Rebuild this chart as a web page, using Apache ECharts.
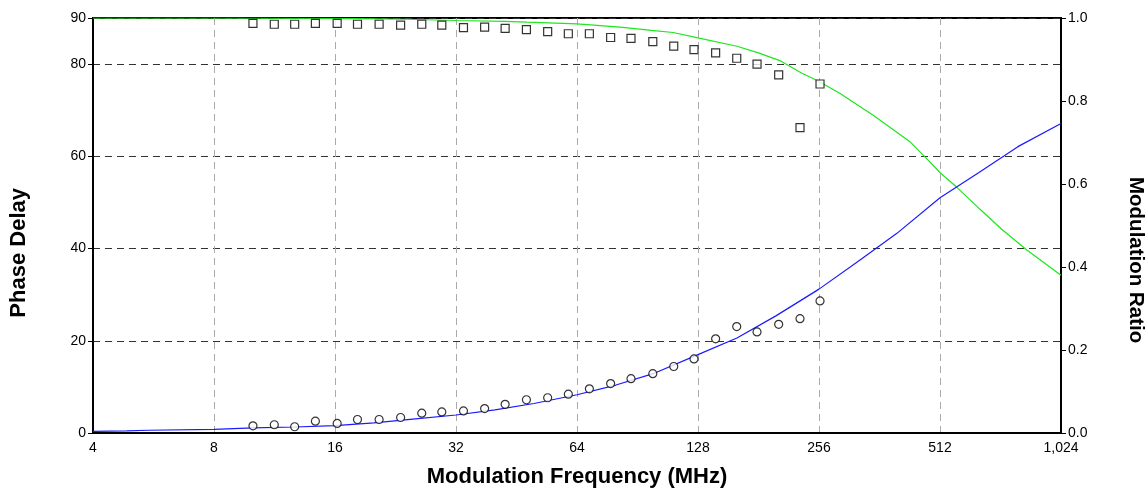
<!DOCTYPE html>
<html>
<head>
<meta charset="utf-8">
<script src="https://cdn.jsdelivr.net/npm/echarts@6/dist/echarts.min.js"></script>
<style>
html,body{margin:0;padding:0;background:#fff;overflow:hidden;}
#chart{width:100vw;height:100vh;}
</style>
</head>
<body>
<div id="chart"></div>
<script>
// Measured frequencies (MHz)
var freqs = [10.0, 11.3, 12.7, 14.3, 16.2, 18.2, 20.6, 23.3, 26.3, 29.5, 33.4, 37.7, 42.4, 47.9, 54.1, 60.9, 68.7, 77.6, 87.2, 98.8, 111.4, 125.1, 141.6, 159.8, 179.5, 203.2, 229.6, 257.5];
// Measured phase delay (degrees) - circles
var phaseData = [1.56, 1.79, 1.36, 2.57, 2.07, 2.93, 2.93, 3.36, 4.29, 4.57, 4.79, 5.29, 6.21, 7.21, 7.64, 8.43, 9.57, 10.71, 11.79, 12.86, 14.42, 16.07, 20.42, 23.08, 21.92, 23.57, 24.79, 28.65];
// Measured modulation ratio - squares
var modData = [0.987, 0.985, 0.985, 0.987, 0.987, 0.985, 0.985, 0.983, 0.985, 0.983, 0.977, 0.978, 0.975, 0.972, 0.967, 0.962, 0.962, 0.953, 0.951, 0.943, 0.932, 0.924, 0.916, 0.903, 0.889, 0.863, 0.736, 0.841];
// Fitted phase curve (blue)
var phaseFitFreq = [4, 4.85, 5.5, 8, 10, 12.7, 16, 20, 25, 32, 40, 50, 64, 80, 100, 128, 160, 200, 256, 320, 400, 512, 640, 800, 1024];
var phaseFitVal  = [0.35, 0.45, 0.6, 0.8, 1.1, 1.3, 1.6, 2.2, 3.0, 3.9, 5.0, 6.4, 8.3, 10.4, 13.0, 17.0, 20.6, 25.4, 31.2, 37.2, 43.3, 51.0, 56.5, 62.1, 67.1];
// Fitted modulation curve (green)
var modFitFreq = [4, 8, 16, 24, 32, 42.4, 48, 64, 82, 98, 111, 128, 160, 181, 206, 231, 256, 289, 303, 350, 431, 471, 514, 564, 644, 729, 842, 1024];
var modFitVal  = [1.0, 1.0, 0.999, 0.997, 0.994, 0.992, 0.990, 0.986, 0.978, 0.970, 0.965, 0.952, 0.932, 0.916, 0.896, 0.868, 0.847, 0.818, 0.805, 0.765, 0.702, 0.664, 0.626, 0.592, 0.539, 0.491, 0.441, 0.380];
// Axis titles
var xTitle = 'Modulation Frequency (MHz)';
var yLeftTitle = 'Phase Delay';
var yRightTitle = 'Modulation Ratio';

function zip(a, b) { return a.map(function (v, i) { return [v, b[i]]; }); }

var FONT = 'Liberation Sans, Arial, sans-serif';
var el = document.getElementById('chart');
var chart = echarts.init(el, null, {renderer: 'canvas'});
chart.setOption({
  animation: false,
  backgroundColor: '#fff',
  grid: {left: 93, width: 968, top: 18, height: 420, show: true, borderColor: '#000', borderWidth: 2, containLabel: false},
  graphic: [{
    type: 'text', left: 8, top: 188, rotation: Math.PI / 2, silent: true,
    style: {text: yLeftTitle, font: 'bold 22px ' + FONT, fill: '#000', textAlign: 'center', textVerticalAlign: 'middle'}
  }, {
    type: 'text', left: 1125, top: 177, rotation: -Math.PI / 2, silent: true,
    style: {text: yRightTitle, font: 'bold 20.5px ' + FONT, fill: '#000', textAlign: 'center', textVerticalAlign: 'middle'}
  }],
  xAxis: {
    type: 'log', logBase: 2, min: 4, max: 1024, interval: 1,
    name: xTitle, nameLocation: 'middle', nameGap: 33,
    nameTextStyle: {fontFamily: FONT, fontSize: 22, fontWeight: 'bold', color: '#000', verticalAlign: 'top'},
    axisLine: {show: true, lineStyle: {color: '#000', width: 2}},
    axisTick: {show: false},
    axisLabel: {fontFamily: FONT, fontSize: 14, color: '#000', margin: 8,
      formatter: function (v) { return Math.round(v).toLocaleString('en-US'); }},
    splitLine: {show: true, lineStyle: {color: '#aaa', width: 1, type: [7, 5]}},
    minorTick: {show: false}, minorSplitLine: {show: false}
  },
  yAxis: [{
    type: 'value', min: 0, max: 90, interval: 20, position: 'left',
    axisLine: {show: true, lineStyle: {color: '#000', width: 2}},
    axisTick: {show: true, length: 5, lineStyle: {color: '#000'}},
    axisLabel: {fontFamily: FONT, fontSize: 14, color: '#000', margin: 7, showMaxLabel: true},
    splitLine: {show: true, lineStyle: {color: '#333', width: 1, type: [7, 5]}}
  }, {
    type: 'value', min: 0, max: 1, interval: 0.2, position: 'right',
    axisLine: {show: true, lineStyle: {color: '#000', width: 2}},
    axisTick: {show: true, length: 5, lineStyle: {color: '#000'}},
    axisLabel: {fontFamily: FONT, fontSize: 14, color: '#000', margin: 7,
      formatter: function (v) { return v.toFixed(1); }},
    splitLine: {show: false}
  }],
  series: [{
    type: 'line', yAxisIndex: 1, data: zip(modFitFreq, modFitVal),
    showSymbol: false, symbol: 'none', lineStyle: {color: '#1ee61e', width: 1.2}, z: 2
  }, {
    type: 'line', yAxisIndex: 0, data: zip(phaseFitFreq, phaseFitVal),
    showSymbol: false, symbol: 'none', lineStyle: {color: '#1a1aff', width: 1.2}, z: 2
  }, {
    type: 'scatter', yAxisIndex: 1, data: zip(freqs, modData), symbol: 'rect', symbolSize: 8,
    itemStyle: {color: '#fff', borderColor: '#000', borderWidth: 1.2}, z: 3
  }, {
    type: 'scatter', yAxisIndex: 0, data: zip(freqs, phaseData), symbol: 'circle', symbolSize: 8,
    itemStyle: {color: '#fff', borderColor: '#000', borderWidth: 1.2}, z: 3
  }]
});
</script>
</body>
</html>
